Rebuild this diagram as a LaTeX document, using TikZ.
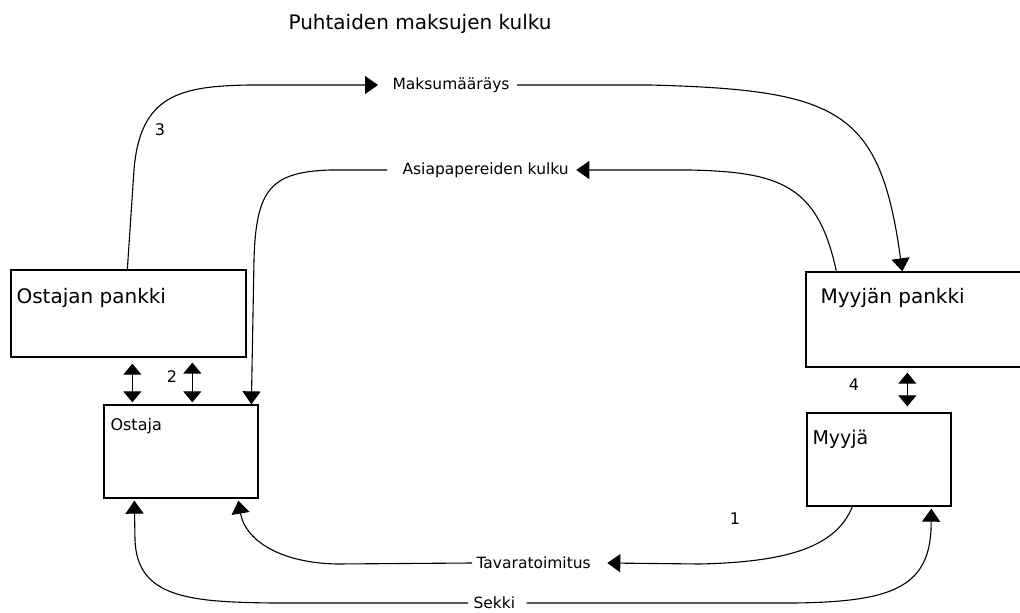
\documentclass[tikz,border=0pt]{standalone}
\usepackage{fontspec}
\setmainfont{DejaVu Sans}
\usetikzlibrary{arrows.meta}
\begin{document}
\begin{tikzpicture}[x=1pt, y=-1pt, line width=1.1pt,
  box/.style={draw, line width=1.3pt, inner sep=0pt},
  lbl/.style={font=\fontsize{15.5}{18}\selectfont, anchor=west, inner sep=0pt},
  num/.style={font=\fontsize{16}{19}\selectfont, anchor=base, inner sep=0pt},
  arr/.style={-{Triangle[width=18pt,length=13pt]}},
  darr/.style={{Triangle[width=18pt,length=11pt]}-{Triangle[width=18pt,length=11pt]}}]
  \useasboundingbox (0,0) rectangle (1020,613);
  \clip (0,0) rectangle (1020,613);
  \node[font=\fontsize{20}{24}\selectfont, anchor=base west, inner sep=0pt] (title) at (288,29) {Puhtaiden maksujen kulku};
  % laatikot
  \node[box, minimum width=235pt, minimum height=87pt] (opankki) at (128.5,313.5) {};
  \node[box, minimum width=154pt, minimum height=93pt] (ostaja) at (181,451.5) {};
  \node[box, minimum width=234pt, minimum height=95pt] (mpankki) at (923,319.5) {};
  \node[box, minimum width=144pt, minimum height=93pt] (myyja) at (879,459.5) {};
  \node[font=\fontsize{20}{24}\selectfont, anchor=base west, inner sep=0pt] (opankkitxt) at (16,303) {Ostajan pankki};
  \node[font=\fontsize{16}{19}\selectfont, anchor=base west, inner sep=0pt] (ostajatxt) at (110,430) {Ostaja};
  \node[font=\fontsize{20}{24}\selectfont, anchor=base west, inner sep=0pt] (mpankkitxt) at (820,303) {Myyjän pankki};
  \node[font=\fontsize{19}{23}\selectfont, anchor=base west, inner sep=0pt] (myyjatxt) at (812,444) {Myyjä};
  % nuolten tekstit
  \node[lbl] (maksu) at (392,85) {Maksumääräys};
  \node[lbl] (asia) at (402,170) {Asiapapereiden kulku};
  \node[lbl] (tavara) at (476,563) {Tavaratoimitus};
  \node[lbl] (sekki) at (473,603) {Sekki};
  \node[num] (n3) at (160,135) {3};
  \node[num] (n2) at (172,382) {2};
  \node[num] (n4) at (854,390) {4};
  \node[num] (n1) at (735,524) {1};
  % 3: maksumääräys
  \draw[arr] ([xshift=117pt]opankki.north west) -- (134,170) .. controls (140,95) and (180,86) .. (250,85) -- ([xshift=-14pt]maksu.west);
  \draw[arr] ([xshift=7pt]maksu.east) -- (650,85) .. controls (840,90) and (880,110) .. ([xshift=97pt]mpankki.north west);
  % asiapaperit
  \draw[arr] ([xshift=31pt]mpankki.north west) .. controls (818,185) and (780,172) .. (690,170) -- ([xshift=7pt]asia.east);
  \draw[arr] ([xshift=-15pt]asia.west) -- (330,170) .. controls (270,172) and (256,190) .. (254,260) -- ([xshift=148pt]ostaja.north west);
  % 2 ja 4
  \draw[darr] ([xshift=122pt,yshift=-6pt]opankki.south west) -- ([xshift=29pt,yshift=2pt]ostaja.north west);
  \draw[darr] ([xshift=182pt,yshift=-5pt]opankki.south west) -- ([xshift=89pt,yshift=2pt]ostaja.north west);
  \draw[darr] ([xshift=102pt,yshift=-5pt]mpankki.south west) -- ([xshift=101pt,yshift=6pt]myyja.north west);
  % 1: tavaratoimitus
  \draw[arr] ([xshift=46pt]myyja.south west) .. controls (835,550) and (780,562) .. (700,564) -- ([xshift=16pt]tavara.east);
  \draw[arr] ([xshift=-4pt]tavara.west) -- (337,564) .. controls (280,563) and (245,540) .. ([xshift=135pt,yshift=-2pt]ostaja.south west);
  % sekki
  \draw[arr] ([xshift=-5pt]sekki.west) -- (273,603) .. controls (190,602) and (137,598) .. (135,540) -- ([xshift=31pt,yshift=-2pt]ostaja.south west);
  \draw[arr] ([xshift=11pt]sekki.east) -- (793,603) .. controls (890,602) and (928,588) .. (931,530) -- ([xshift=125pt,yshift=-2pt]myyja.south west);
\end{tikzpicture}
\end{document}
